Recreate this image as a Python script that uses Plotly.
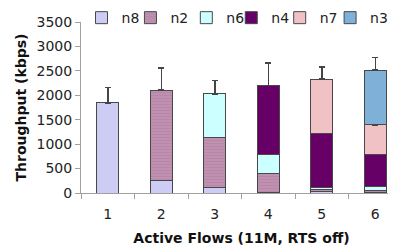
import plotly.graph_objects as go

flows = [1, 2, 3, 4, 5, 6]
flow_labels = ["1", "2", "3", "4", "5", "6"]

n8 = [1847, 259, 116, 10, 30, 20]
n2 = [None, 1847, 1015, 393, 40, 35]
n6 = [None, None, 900, 395, 46, 74]
n4 = [None, None, None, 1404, 1097, 669]
n7 = [None, None, None, None, 1118, 599]
n3 = [None, None, None, None, None, 1118]

n8_err = [308, 197, 95, 10, 20, 15]
n2_err = [None, 457, 315, 204, 30, 30]
n6_err = [None, None, 274, 163, 74, 82]
n4_err = [None, None, None, 457, 294, 204]
n7_err = [None, None, None, None, 252, 212]
n3_err = [None, None, None, None, None, 260]

series = [
    ("n8", n8, n8_err, "#ccccf4", None),
    ("n2", n2, n2_err, "#bf90b0", "-"),
    ("n6", n6, n6_err, "#ccffff", None),
    ("n4", n4, n4_err, "#660066", None),
    ("n7", n7, n7_err, "#f0c2c6", None),
    ("n3", n3, n3_err, "#7eb0d8", None),
]

# horizontal position (paper fraction of plot width) of each legend entry
legend_x = [0.0016, 0.154, 0.3281, 0.4681, 0.619, 0.776]

fig = go.Figure()
legends = {}
for i, (name, vals, errs, color, pat) in enumerate(series):
    key = "legend" if i == 0 else f"legend{i + 1}"
    marker = dict(color=color, line=dict(color="#484848", width=1))
    if pat:
        marker["pattern"] = dict(shape=pat, fgcolor="#a87898", bgcolor=color,
                                 size=3, solidity=0.25)
    fig.add_trace(go.Bar(
        x=flows, y=vals, name=name, marker=marker, legend=key,
        error_y=dict(type="data", array=errs, symmetric=False,
                     color="#454545", thickness=1.5, width=3),
    ))
    legends[key] = dict(orientation="h", x=legend_x[i], xanchor="left",
                        y=1.023, yanchor="middle", font=dict(size=14),
                        bgcolor="rgba(0,0,0,0)")

# page body has an 8px margin: compensate in the figure margins
fig.update_layout(
    width=396, height=245,
    barmode="stack", bargap=0.59,
    margin=dict(l=73, r=1.5, t=14, b=60, autoexpand=False),
    paper_bgcolor="white", plot_bgcolor="white",
    font=dict(family="DejaVu Sans", size=14, color="#222"),
    showlegend=True,
    xaxis=dict(
        range=[0.5, 6.5], tickvals=flows, ticktext=flow_labels,
        ticks="", showline=True, linecolor="#a0a0a0", linewidth=1,
        showgrid=False, zeroline=False, automargin=False, ticklabelstandoff=8,
        minor=dict(tick0=0.5, dtick=1, ticks="outside", ticklen=5,
                   tickcolor="#a0a0a0", showgrid=False),
        title=dict(text="Active Flows (11M, RTS off)",
                   font=dict(size=14, weight="bold", color="#111"), standoff=12),
    ),
    yaxis=dict(
        range=[0, 3500], dtick=500, ticks="outside", ticklen=5,
        tickcolor="#a0a0a0", showline=True, linecolor="#a0a0a0", linewidth=1,
        showgrid=False, zeroline=False, automargin=False,
        title=dict(text="Throughput (kbps)",
                   font=dict(size=14, weight="bold", color="#111"), standoff=6),
    ),
    **legends,
)

fig.write_html("out.html")
